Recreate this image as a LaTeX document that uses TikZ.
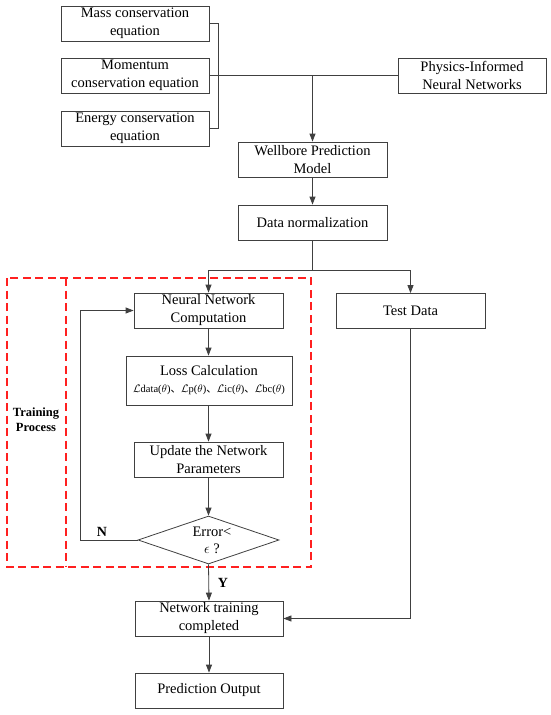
\documentclass[tikz,border=0pt]{standalone}
\usepackage{fontspec}
\setmainfont{Liberation Serif}
\newfontfamily\cjk{Noto Sans CJK SC}
\usetikzlibrary{arrows.meta,shapes.geometric}
\definecolor{linegray}{HTML}{404040}
\definecolor{dashred}{HTML}{FF2020}
\tikzset{
  boxnode/.style={draw=linegray, line width=0.8pt, minimum width=148pt, minimum height=35pt, inner sep=0pt, align=center, font=\fontsize{14.5}{18}\selectfont},
  conn/.style={draw=linegray, line width=0.8pt},
  arr/.style={conn, -{Triangle[length=8pt,width=6pt]}},
  reddash/.style={draw=dashred, line width=1.2pt, dash pattern=on 8pt off 4.5pt},
  boldlbl/.style={font=\fontsize{14}{16}\selectfont\bfseries, inner sep=0pt},
}
\begin{document}
\begin{tikzpicture}[x=1pt,y=-1pt]
\fill[white] (0,0) rectangle (550,715);
\useasboundingbox (0,0) rectangle (550,715);
% top boxes
\node[boxnode] (mass) at (135,23.5) {Mass conservation\\equation};
\node[boxnode] (mom) at (135,75.5) {Momentum\\conservation equation};
\node[boxnode] (energy) at (135,128.5) {Energy conservation\\equation};
\node[boxnode] (pinn) at (472,75.5) {Physics-Informed\\Neural Networks};
\node[boxnode, minimum width=149pt] (wb) at (312.5,159.5) {Wellbore Prediction\\Model};
\node[boxnode, minimum width=149pt] (dn) at (312.5,222.5) {Data normalization};
% training
\node[boxnode, minimum width=149pt] (nn) at (208.5,310.5) {Neural Network\\Computation};
\node[boxnode, minimum width=166pt, minimum height=49pt] (loss) at (209,380.5) {Loss Calculation\\[-1pt]{\fontsize{10.5}{12}\selectfont $\mathcal{L}$data($\theta$){\cjk 、}$\mathcal{L}$p($\theta$){\cjk 、}$\mathcal{L}$ic($\theta$){\cjk 、}$\mathcal{L}$bc($\theta$)}};
\node[boxnode, minimum width=149pt] (upd) at (208.5,459.5) {Update the Network\\Parameters};
\node[draw=linegray, line width=0.8pt, shape=diamond, minimum width=141pt, minimum height=48pt, inner sep=0pt] (dia) at (208.5,540) {};
\node[align=center, inner sep=0pt, font=\fontsize{14.5}{17}\selectfont] (diatext) at (212,540.5) {Error<\\$\epsilon$ ?};
\node[boxnode, minimum width=149pt] (test) at (410.5,311) {Test Data};
\node[boxnode] (ntc) at (209,618.5) {Network training\\completed};
\node[boxnode] (pred) at (209,690.5) {Prediction Output};
% labels
\node[boldlbl] (nlbl) at (102,532) {N};
\node[boldlbl] (ylbl) at (223,583) {Y};
\node[align=center, inner sep=0pt, font=\fontsize{12.5}{15}\selectfont\bfseries] (tp) at (36,420) {Training\\Process};
% red dashed frame
\draw[reddash] (7,278) rectangle (311,567);
\draw[reddash] (66,278) -- (66,567);
% connectors
\draw[conn] (mass.east) -- ++(9,0) |- (energy.east);
\draw[conn] (mom.east) -- (pinn.west);
\coordinate (j1) at (wb.north |- mom.east);
\draw[arr] (j1) -- (wb.north);
\draw[arr] (wb.south) -- (dn.north);
\coordinate (split) at (312.5,270);
\draw[conn] (dn.south) -- (split);
\draw[arr] (split) -| (nn.north);
\draw[arr] (split) -| (test.north);
\draw[arr] (nn.south) -- (loss.north -| nn.south);
\draw[arr] (loss.south -| upd.north) -- (upd.north);
\draw[arr] (upd.south) -- (dia.north);
\coordinate (loopc) at (80,540);
\draw[arr] (dia.west) -- (loopc) |- (nn.west);
\draw[arr] (dia.south) -- (ntc.north);
\draw[arr] (test.south) |- (ntc.east);
\draw[arr] (ntc.south) -- (pred.north);
\end{tikzpicture}
\end{document}
